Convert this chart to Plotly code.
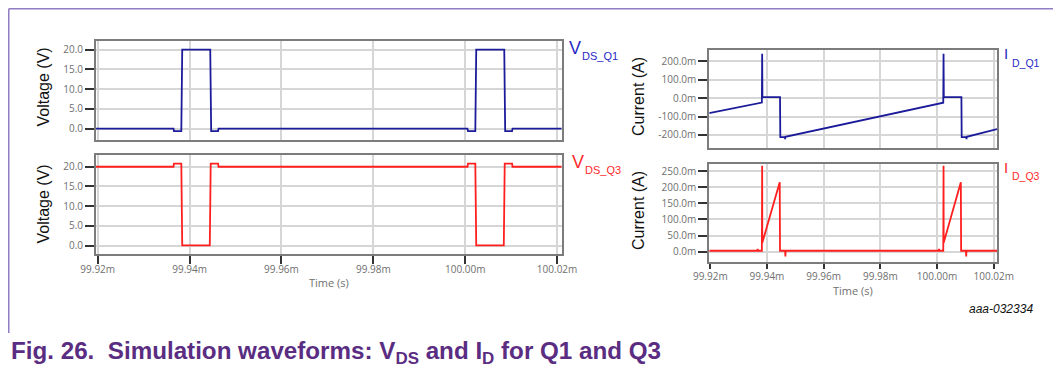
import plotly.graph_objects as go

# ---------------- data (time in ms, shown as "m" seconds) ----------------
t_vds_q1 = [99.9196, 99.9365, 99.9366, 99.9382, 99.9384, 99.9445, 99.9447, 99.9462, 99.9463,
            100.0005, 100.0006, 100.0022, 100.0024, 100.0085, 100.0087, 100.0102, 100.0103, 100.0212]
v_vds_q1 = [0, 0, -0.6, -0.6, 20, 20, -0.6, -0.6, 0,
            0, -0.6, -0.6, 20, 20, -0.6, -0.6, 0, 0]

t_vds_q3 = [99.9196, 99.9365, 99.9366, 99.9382, 99.9384, 99.9444, 99.9446, 99.9462, 99.9463,
            100.0005, 100.0006, 100.0022, 100.0024, 100.0084, 100.0086, 100.0102, 100.0103, 100.0212]
v_vds_q3 = [20, 20, 20.8, 20.8, 0.1, 0.1, 20.8, 20.8, 20,
            20, 20.8, 20.8, 0.1, 0.1, 20.8, 20.8, 20, 20]

t_id_q1 = [99.9196, 99.9382, 99.9383, 99.9384, 99.9446, 99.9447, 99.9463, 99.9464, 99.9465,
           100.0022, 100.0023, 100.0024, 100.0086, 100.0087, 100.0103, 100.0104, 100.0105, 100.0212]
i_id_q1 = [-82, -24, 241, 5, 5, -212, -212, -222, -210,
           -25, 241, 5, 5, -212, -212, -222, -210, -168]

t_id_q3 = [99.9196, 99.9366, 99.9367, 99.9368, 99.9382, 99.9383, 99.93835, 99.9445, 99.9446,
           99.9464, 99.9465, 99.9466,
           100.0006, 100.0007, 100.0008, 100.0022, 100.0023, 100.00235, 100.0084, 100.0085,
           100.0102, 100.0103, 100.0104, 100.0212]
i_id_q3 = [3, 3, 9, 3, 3, 266, 28, 215, 3,
           3, -15, 3,
           3, 9, 3, 3, 266, 28, 215, 3,
           3, -15, 3, 3]

x_ticks = [99.92, 99.94, 99.96, 99.98, 100.00, 100.02]
x_tick_text = ["99.92m", "99.94m", "99.96m", "99.98m", "100.00m", "100.02m"]
v_ticks = [0, 5, 10, 15, 20]
v_tick_text = ["0.0", "5.0", "10.0", "15.0", "20.0"]
i1_ticks = [-200, -100, 0, 100, 200]
i1_tick_text = ["-200.0m", "-100.0m", "0.0m", "100.0m", "200.0m"]
i3_ticks = [0, 50, 100, 150, 200, 250]
i3_tick_text = ["0.0m", "50.0m", "100.0m", "150.0m", "200.0m", "250.0m"]

BLUE = "#1c1c9a"
RED = "#ff1f1f"
LBL_BLUE = "#2a2ac4"
LBL_RED = "#ff2a2a"

# the page places the figure 8 px in from the top-left corner
OX, OY = 8, 8
W, H = 1053, 363
def px(x):
    return (x - OX) / W
def py(y):
    return 1 - (y - OY) / H

fig = go.Figure()
fig.add_trace(go.Scatter(x=t_vds_q1, y=v_vds_q1, mode="lines", line=dict(color=BLUE, width=1.8),
                         xaxis="x", yaxis="y", showlegend=False))
fig.add_trace(go.Scatter(x=t_vds_q3, y=v_vds_q3, mode="lines", line=dict(color=RED, width=1.8),
                         xaxis="x2", yaxis="y2", showlegend=False))
fig.add_trace(go.Scatter(x=t_id_q1, y=i_id_q1, mode="lines", line=dict(color=BLUE, width=1.8),
                         xaxis="x3", yaxis="y3", showlegend=False))
fig.add_trace(go.Scatter(x=t_id_q3, y=i_id_q3, mode="lines", line=dict(color=RED, width=1.8),
                         xaxis="x4", yaxis="y4", showlegend=False))

tickfont = dict(family="Open Sans, Liberation Sans, sans-serif", size=10, color="#6f6f6f")
common = dict(showline=True, mirror=True, linecolor="#7c7c7c", linewidth=2,
              showgrid=True, gridcolor="#d6d6d6", gridwidth=1.5, zeroline=False,
              automargin=False,
              tickfont=tickfont, ticklen=9, tickwidth=1.5, tickcolor="#333333")

def xax(dom, anchor, rng, labels, tl=8, standoff=0):
    d = dict(common)
    d.update(domain=dom, anchor=anchor, range=rng, tickmode="array", tickvals=x_ticks,
             ticktext=x_tick_text, showticklabels=labels, ticks="outside" if labels else "",
             ticklen=tl, ticklabelstandoff=standoff)
    return d

def yax(dom, anchor, rng, tv, tt):
    d = dict(common)
    d.update(domain=dom, anchor=anchor, range=rng, tickmode="array", tickvals=tv,
             ticktext=tt, ticks="outside")
    return d

left_dom = [px(96), px(561.5)]
right_dom = [px(709.3), px(997)]

fig.update_layout(
    width=W, height=H, autosize=False,
    margin=dict(l=0, r=0, t=0, b=0, pad=0, autoexpand=False),
    paper_bgcolor="white", plot_bgcolor="white",
    xaxis=xax(left_dom, "y", [99.91963, 100.02096], False),
    yaxis=yax([py(140), py(41)], "x", [-2.86, 22.2], v_ticks, v_tick_text),
    xaxis2=xax(left_dom, "y2", [99.91963, 100.02096], True, tl=8, standoff=-3),
    yaxis2=yax([py(254), py(155.3)], "x2", [-2.1, 22.9], v_ticks, v_tick_text),
    xaxis3=xax(right_dom, "y3", [99.91965, 100.02116], False),
    yaxis3=yax([py(147.7), py(50)], "x3", [-269, 261], i1_ticks, i1_tick_text),
    xaxis4=xax(right_dom, "y4", [99.91965, 100.02116], True, tl=5, standoff=-1),
    yaxis4=yax([py(262.3), py(163.7)], "x4", [-32.8, 272.6], i3_ticks, i3_tick_text),
)

ann = []
def add(text, x, y, size, color, family="Liberation Sans, Arial, sans-serif", xanchor="left",
        angle=0, bold=False, italic=False):
    if bold:
        text = "<b>" + text + "</b>"
    if italic:
        text = "<i>" + text + "</i>"
    ann.append(dict(text=text, x=px(x), y=py(y), xref="paper", yref="paper", showarrow=False,
                    xanchor=xanchor, yanchor="middle", textangle=angle,
                    font=dict(family=family, size=size, color=color)))

# axis titles
add("Voltage (V)", 43, 87.5, 16, "#111111", xanchor="center", angle=-90)
add("Voltage (V)", 43, 204.5, 16, "#111111", xanchor="center", angle=-90)
add("Current (A)", 638, 97, 16, "#111111", xanchor="center", angle=-90)
add("Current (A)", 638, 211, 16, "#111111", xanchor="center", angle=-90)
add("Time (s)", 329, 282, 11, "#6f6f6f", family="Open Sans, sans-serif", xanchor="center")
add("Time (s)", 853, 290, 11, "#6f6f6f", family="Open Sans, sans-serif", xanchor="center")

# series labels
add("V", 567, 48.5, 18, LBL_BLUE)
add("DS_Q1", 580, 56, 11, LBL_BLUE)
add("V", 570, 162, 18, LBL_RED)
add("DS_Q3", 583, 169.5, 11, LBL_RED)
add("I", 1002, 54, 15, LBL_BLUE)
add("D_Q1", 1010, 62.5, 10.5, LBL_BLUE)
add("I", 1002, 167.5, 15, LBL_RED)
add("D_Q3", 1010, 176, 10.5, LBL_RED)

# figure id and caption
add("aaa-032334", 1035, 309, 12, "#111111", xanchor="right", italic=True)
add("Fig. 26.  Simulation waveforms: V<sub>DS</sub> and I<sub>D</sub> for Q1 and Q3",
    9, 352, 24.2, "#5a2d82", bold=True)

fig.update_layout(annotations=ann)

# purple frame (top and left edges)
fig.add_shape(type="line", xref="paper", yref="paper", x0=px(8.75), x1=1.0, y0=py(8.75), y1=py(8.75),
              line=dict(color="#8f7cc4", width=1.5))
fig.add_shape(type="line", xref="paper", yref="paper", x0=px(8.75), x1=px(8.75), y0=py(8.75), y1=py(333),
              line=dict(color="#8f7cc4", width=1.5))

fig.write_html("out.html")
